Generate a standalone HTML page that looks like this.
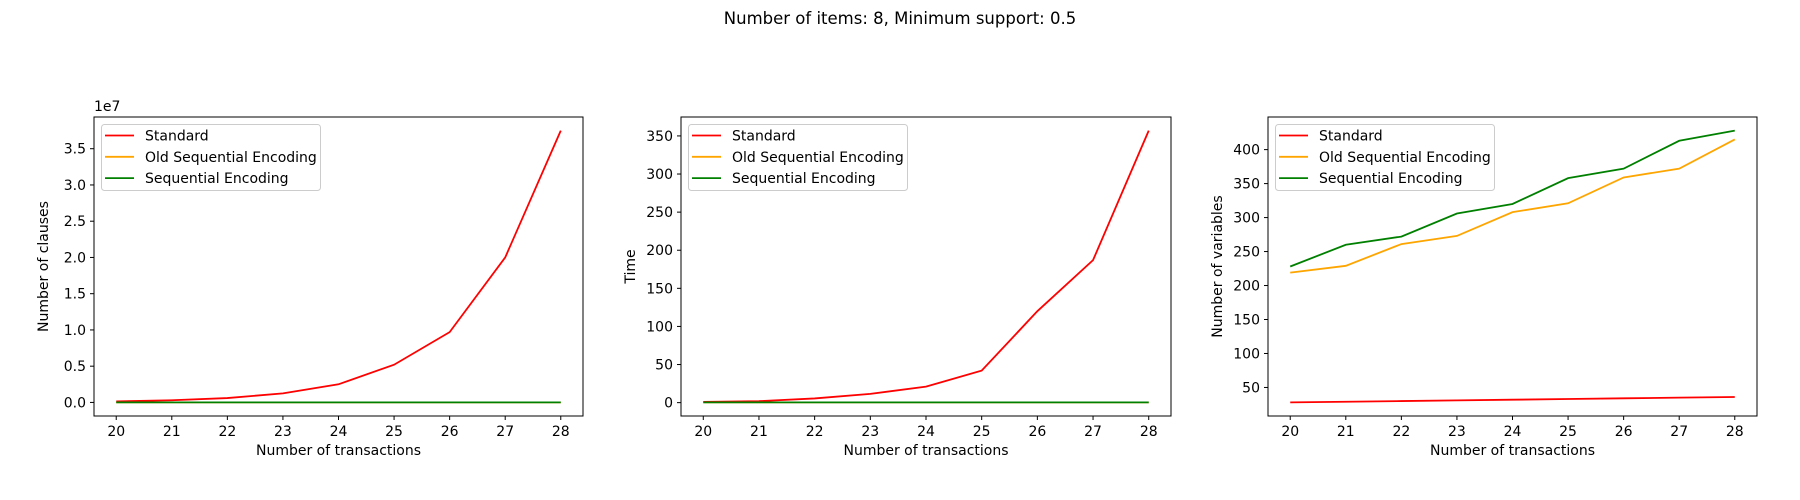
<!DOCTYPE html>
<html><head><meta charset="utf-8"><style>
body{margin:0;background:#fff;}
svg{display:block;font-family:"DejaVu Sans","Liberation Sans",sans-serif;}
</style></head><body>
<svg id="fig" width="1800" height="500" xmlns="http://www.w3.org/2000/svg">
<rect width="1800" height="500" fill="#fff"/>
<text x="900" y="24" text-anchor="middle" font-size="16.5" fill="#000">Number of items: 8, Minimum support: 0.5</text>
</svg>
<script>
const xCats = [20,21,22,23,24,25,26,27,28];
const clausesStandard = [0.15e6,0.3e6,0.6e6,1.25e6,2.5e6,5.2e6,9.7e6,20e6,37.5e6];
const clausesOld = [3000,3500,4000,4500,5000,5500,6000,6500,7000];
const clausesSeq = [2500,3000,3500,4000,4500,5000,5500,6000,6500];
const timeStandard = [1,2,5.5,11.5,21,42,120,187,357];
const timeOld = [0.3,0.3,0.3,0.3,0.3,0.3,0.3,0.3,0.3];
const timeSeq = [0.3,0.3,0.3,0.3,0.3,0.3,0.3,0.3,0.3];
const varsStandard = [28,29,30,31,32,33,34,35,36];
const varsOld = [219,229,261,273,308,321,359,372,415];
const varsSeq = [228,260,272,306,320,358,372,413,428];
const clausesTicks = [0,0.5e7,1e7,1.5e7,2e7,2.5e7,3e7,3.5e7];
const clausesTickLabels = ["0.0","0.5","1.0","1.5","2.0","2.5","3.0","3.5"];
const timeTicks = [0,50,100,150,200,250,300,350];
const varsTicks = [50,100,150,200,250,300,350,400];
const seriesNames = ["Standard","Old Sequential Encoding","Sequential Encoding"];
const seriesColors = ["#ff0000","#ffa500","#008000"];

const NS="http://www.w3.org/2000/svg";
const svg=document.getElementById('fig');
function mk(tag,attrs,parent,text){const e=document.createElementNS(NS,tag);for(const k in attrs)e.setAttribute(k,attrs[k]);if(text!==undefined)e.textContent=text;(parent||svg).appendChild(e);return e;}

function panel(id,L,R,T,B,series,ticks,tickLabels,ylabel,offset){
  const g=mk('g',{});
  
  
  let mn=Infinity,mx=-Infinity;
  series.forEach(s=>s.forEach(v=>{mn=Math.min(mn,v);mx=Math.max(mx,v);}));
  const pad=(mx-mn)*0.05; const y0=mn-pad,y1=mx+pad;
  const xs=v=>L+(v-19.6)/(28.4-19.6)*(R-L);
  const ys=v=>B-(v-y0)/(y1-y0)*(B-T);
  mk('rect',{x:L,y:T,width:R-L,height:B-T,fill:'#fff'},g);
  // x ticks
  xCats.forEach(c=>{const x=xs(c);
    mk('line',{x1:x,x2:x,y1:B,y2:B+4,stroke:'#000','stroke-width':1},g);
    const t=mk('text',{x:x,y:B+20,'text-anchor':'middle','font-size':14},g,String(c));
    
    
  });
  ticks.forEach((v,i)=>{const y=ys(v);
    mk('line',{x1:L-4,x2:L,y1:y,y2:y,stroke:'#000','stroke-width':1},g);
    const t=mk('text',{x:L-8,y:y+5,'text-anchor':'end','font-size':14},g,tickLabels?tickLabels[i]:String(v));
    
    
  });
  const xl=mk('text',{x:(L+R)/2,y:B+39,'text-anchor':'middle','font-size':14},g,'Number of transactions');
  
  
  const lx=L-46, ly=(T+B)/2;
  const yl=mk('text',{x:lx,y:ly,'text-anchor':'middle','font-size':14,transform:`rotate(-90 ${lx} ${ly})`},g,ylabel);
  
  
  if(offset){const o=mk('text',{x:L,y:T-6,'font-size':14},g,offset);
    
    }
  series.forEach((s,i)=>{
    const p=mk('polyline',{points:s.map((v,j)=>xs(xCats[j])+','+ys(v)).join(' '),fill:'none',stroke:seriesColors[i],'stroke-width':1.8},g);
    
    
  });
  mk('rect',{x:L,y:T,width:R-L,height:B-T,fill:'none',stroke:'#000','stroke-width':1},g);
  // legend
  const lg=mk('g',{},g);
  
  
  mk('rect',{x:L+7.5,y:T+7.5,width:219,height:66,rx:3,fill:'#fff','fill-opacity':0.8,stroke:'#ccc'},lg);
  seriesNames.forEach((n,i)=>{const y=T+18.5+i*21.3;
    const e=mk('g',{},lg);
    
    
    mk('line',{x1:L+11,x2:L+40,y1:y,y2:y,stroke:seriesColors[i],'stroke-width':1.8},e);
    mk('text',{x:L+51,y:y+5,'font-size':14},e,n);
  });
}
panel('clauses',94,583,117,416,[clausesStandard,clausesOld,clausesSeq],clausesTicks,clausesTickLabels,'Number of clauses','1e7');
panel('time',681,1171,117,416,[timeStandard,timeOld,timeSeq],timeTicks,null,'Time');
panel('variables',1268,1757,117,416,[varsStandard,varsOld,varsSeq],varsTicks,null,'Number of variables');
</script>
</body></html>
